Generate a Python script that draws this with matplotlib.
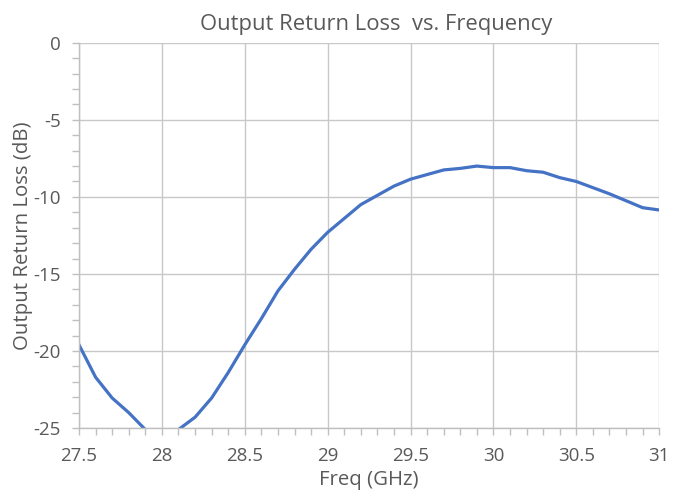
import numpy as np
import matplotlib.pyplot as plt
from matplotlib.ticker import MultipleLocator

freq = [27.5, 27.6, 27.7, 27.8, 27.9, 28.0, 28.1, 28.2, 28.3, 28.4, 28.5,
        28.6, 28.7, 28.8, 28.9, 29.0, 29.1, 29.2, 29.3, 29.4, 29.5,
        29.6, 29.7, 29.8, 29.9, 30.0, 30.1, 30.2, 30.3, 30.4, 30.5,
        30.6, 30.7, 30.8, 30.9, 31.0]
rl = [-19.6, -21.7, -23.05, -24.0, -25.1, -26.3, -25.1, -24.3, -23.05, -21.4, -19.6,
      -17.9, -16.1, -14.7, -13.4, -12.3, -11.4, -10.5, -9.9, -9.3, -8.85,
      -8.55, -8.25, -8.15, -8.0, -8.1, -8.1, -8.3, -8.4, -8.75, -9.0,
      -9.4, -9.8, -10.25, -10.7, -10.85]

plt.rcParams['font.family'] = ['Open Sans', 'DejaVu Sans']
txt = '#595959'

fig = plt.figure(figsize=(6.81, 4.92), dpi=100)
ax = fig.add_axes([0.116, 0.130, 0.852, 0.783])

ax.plot(freq, rl, color='#4472C4', lw=2.3, solid_joinstyle='round')

ax.set_xlim(27.5, 31)
ax.set_ylim(-25, 0)
ax.xaxis.set_minor_locator(MultipleLocator(0.1))
ax.yaxis.set_minor_locator(MultipleLocator(1))
ax.set_xticks([27.5, 28, 28.5, 29, 29.5, 30, 30.5, 31])
ax.set_xticklabels(['27.5', '28', '28.5', '29', '29.5', '30', '30.5', '31'])
ax.set_yticks([0, -5, -10, -15, -20, -25])
ax.set_yticklabels(['0', '-5', '-10', '-15', '-20', '-25'])

ax.grid(True, which='major', color='#c8c8c8', lw=1.0)
for s in ['top', 'right']:
    ax.spines[s].set_visible(False)
for s in ['left', 'bottom']:
    ax.spines[s].set_color('#bfbfbf')
    ax.spines[s].set_linewidth(1.0)

ax.tick_params(which='both', colors='#bfbfbf', labelcolor=txt, labelsize=13.5)
ax.tick_params(which='both', length=5, width=1)
ax.tick_params(axis='x', pad=9)
ax.tick_params(axis='y', pad=8)

ax.set_title('Output Return Loss  vs. Frequency', color=txt, fontsize=15.8, pad=9, x=0.512)
ax.set_xlabel('Freq (GHz)', color=txt, fontsize=14.7, labelpad=3)
ax.set_ylabel('Output Return Loss (dB)', color=txt, fontsize=14.7, labelpad=0)

plt.savefig('out.png', dpi=100)
